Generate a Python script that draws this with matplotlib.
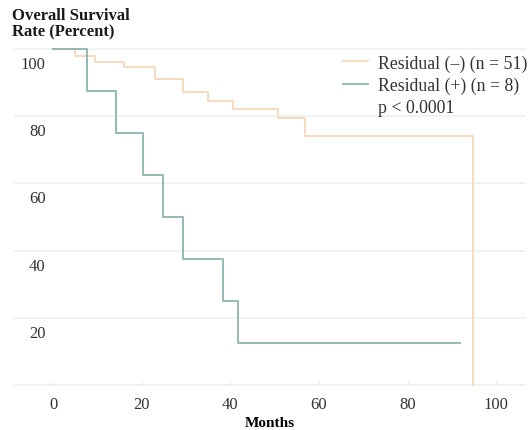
import matplotlib
matplotlib.use("Agg")
from matplotlib import pyplot as plt
from matplotlib.lines import Line2D
from matplotlib.transforms import ScaledTranslation

# Kaplan-Meier steps (months, percent surviving)
neg_months = [0, 5, 9.5, 16, 23, 29.3, 35, 40.6, 50.8, 56.9, 94.8]
neg_surv = [100, 98, 96, 94.5, 91, 87.2, 84.5, 82.1, 79.5, 74.1, 0]

pos_months = [0, 7.7, 14.2, 20.3, 24.8, 29.4, 38.3, 41.8, 91.9]
pos_surv = [100, 87.5, 75, 62.5, 50, 37.5, 25, 12.5, 12.5]

x_ticks = [0, 20, 40, 60, 80, 100]
y_ticks = [20, 40, 60, 80, 100]
grid_levels = [0, 20, 40, 60, 80, 100]

neg_label = "Residual (\u2013) (n = 51)"
pos_label = "Residual (+) (n = 8)"
p_label = "p < 0.0001"

orange = "#f6d8bc"
teal = "#8db3ae"
grid_col = "#e9f1ef"

plt.rcParams["font.family"] = ["Liberation Serif", "DejaVu Serif"]

fig = plt.figure(figsize=(5.28, 4.31), dpi=100)
ax = fig.add_axes([15 / 528, 1 - 386 / 431, 510 / 528, 336 / 431])

for g in grid_levels:
    ax.axhline(g, color=grid_col, lw=1.2, zorder=0, clip_on=False)

# orange curve drops to zero at the end, drawn as steps
ax.step(neg_months, neg_surv, where="post", color=orange, lw=1.3, clip_on=False)
ax.step(pos_months, pos_surv, where="post", color=teal, lw=1.3, clip_on=False)

ax.set_xlim(-8.6, 106.5)
ax.set_ylim(0, 100)
for s in ax.spines.values():
    s.set_visible(False)

ax.set_xticks(x_ticks)
ax.set_xticklabels([str(v) for v in x_ticks], fontsize=12, color="#333333")
ax.tick_params(axis="x", direction="in", length=3, color="#e6eeec", pad=8)

ax.set_yticks(y_ticks)
ax.set_yticklabels([str(v) for v in y_ticks], fontsize=12, color="#333333")
ax.tick_params(axis="y", length=0, pad=-22)
shift = ScaledTranslation(0, -0.13, fig.dpi_scale_trans)
for lab in ax.get_yticklabels():
    lab.set_transform(lab.get_transform() + shift)

ax.set_xlabel("Months", fontsize=11, fontweight="bold", labelpad=3)

fig.text(12 / 528, 1 - 8 / 431, "Overall Survival\nRate (Percent)",
         fontsize=12, fontweight="bold", va="top", ha="left",
         linespacing=1.05, color="#1a1a1a")

handles = [Line2D([], [], color=orange, lw=1.3),
           Line2D([], [], color=teal, lw=1.3),
           Line2D([], [], color="none")]
leg = ax.legend(handles, [neg_label, pos_label, p_label], loc="upper right",
                bbox_to_anchor=(1.004, 0.984), frameon=False, fontsize=12.8,
                borderaxespad=0, borderpad=0, handlelength=1.4,
                handletextpad=0.55, labelspacing=0.29)
for t in leg.get_texts():
    t.set_color("#333333")

fig.savefig("out.png", dpi=100)
